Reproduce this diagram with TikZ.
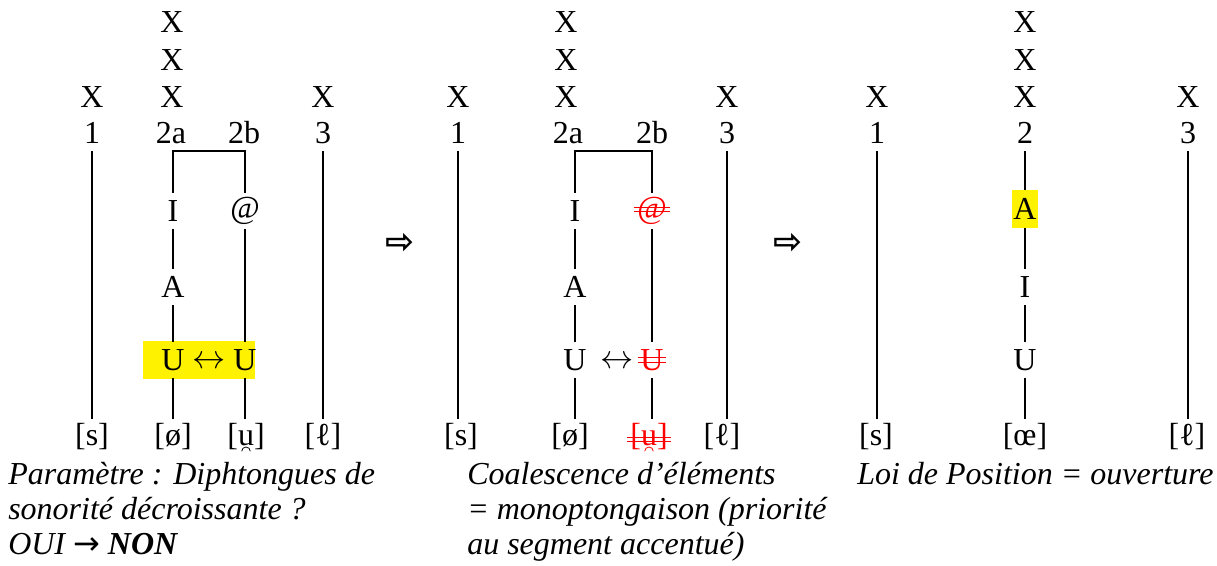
\documentclass[tikz,border=0pt]{standalone}
\usepackage{fontspec}
\setmainfont{Liberation Serif}
\newfontfamily\arrowfont{DejaVu Sans}
\usetikzlibrary{positioning}

\begin{document}
\fontsize{24pt}{26.25pt}\selectfont
\begin{tikzpicture}[x=0.75pt, y=-0.75pt]
        \tikzset{
            seg/.style = {inner sep=0pt, minimum height=27pt},
            gone/.style = {seg, text=red},
            tie/.style = {line width=1.4pt},
            strike/.style = {red, line width=0.7pt, shorten <=-2pt, shorten >=-2pt},
            hilite/.style = {fill=yellow},
            gloss/.style = {inner sep=0pt, anchor=north west, align=left, font=\itshape},
            bigarrow/.style = {seg, font=\arrowfont\bfseries\fontsize{26pt}{26pt}\selectfont}
        }
        \useasboundingbox (0,0) rectangle (1217,566);

        % first panel
        \fill[yellow] (143,341) rectangle (255,379);
        \node (p1x1) [seg] at (92,97) {X};
        \node (p1n1) [seg] at (92,133) {1};
        \node (p1s) [seg] at (92,437) {[s]};
        \node (p1x2a) [seg] at (172,22) {X};
        \node (p1x2b) [seg] at (172,60) {X};
        \node (p1x2c) [seg] at (172,97) {X};
        \node (p1n2a) [seg] at (171,133) {2a};
        \node (p1n2b) [seg] at (244,133) {2b};
        \node (p1i) [seg] at (173,211) {I};
        \node (p1a) [seg] at (173,287) {A};
        \node (p1u) [seg] at (173,360) {U};
        \node (p1o) [seg] at (173,437) {[ø]};
        \node (p1at) [seg] at (245,211) {@};
        \node (p1uu) [seg] at (245,360) {U};
        \node (p1w) [seg] at (246,437) {[u]};
        \node (p1lr) [seg] at (209,362) {$\leftrightarrow$};
        \node (p1x3) [seg] at (323,97) {X};
        \node (p1n3) [seg] at (323,133) {3};
        \node (p1l) [seg] at (323,437) {[ℓ]};

        \draw [tie] (p1n1) -- (p1s);
        \draw [tie] (p1i) -- (p1i.north |- p1n2a.south) -| (p1at);
        \draw [tie] (p1i) -- (p1a);
        \draw [tie] (p1a) -- (p1u);
        \draw [tie] (p1u) -- (p1o);
        \draw [tie] (p1at) -- (p1uu);
        \draw [tie] (p1uu) -- (p1uu.south |- p1w.north);
        \draw [tie] (p1n3) -- (p1l);
        \draw [line width=0.6pt] ([xshift=-3.2pt,yshift=3pt]p1w.south) arc [start angle=180, end angle=0, radius=3.2pt];

        \node (go1) [bigarrow] at (400,243) {⇨};

        % second panel
        \node (p2x1) [seg] at (458,97) {X};
        \node (p2n1) [seg] at (458,133) {1};
        \node (p2s) [seg] at (461,437) {[s]};
        \node (p2x2a) [seg] at (566,22) {X};
        \node (p2x2b) [seg] at (566,60) {X};
        \node (p2x2c) [seg] at (566,97) {X};
        \node (p2n2a) [seg] at (568,133) {2a};
        \node (p2n2b) [seg] at (652,133) {2b};
        \node (p2i) [seg] at (575,211) {I};
        \node (p2a) [seg] at (575,287) {A};
        \node (p2u) [seg] at (575,360) {U};
        \node (p2o) [seg] at (570,437) {[ø]};
        \node (p2at) [gone] at (652,211) {@};
        \node (p2uu) [gone] at (652,360) {U};
        \node (p2w) [gone] at (649,437) {[u]};
        \node (p2lr) [seg] at (617,362) {$\leftrightarrow$};
        \node (p2x3) [seg] at (727,97) {X};
        \node (p2n3) [seg] at (727,133) {3};
        \node (p2l) [seg] at (722,437) {[ℓ]};

        \draw [tie] (p2n1) -- (p2n1.south |- p2s.north);
        \draw [tie] (p2i) -- (p2i.north |- p2n2a.south) -| (p2at);
        \draw [tie] (p2i) -- (p2a);
        \draw [tie] (p2a) -- (p2u);
        \draw [tie] (p2u) -- (p2u.south |- p2o.north);
        \draw [tie] (p2at) -- (p2uu);
        \draw [tie] (p2uu) -- (p2uu.south |- p2w.north);
        \draw [tie] (p2n3) -- (p2n3.south |- p2l.north);
        \draw [red, line width=0.6pt] ([xshift=-3.2pt,yshift=3pt]p2w.south) arc [start angle=180, end angle=0, radius=3.2pt];
        \foreach \n/\d in {p2at/1pt, p2uu/0pt, p2w/-2pt}
            \foreach \s in {-1.6pt,1.6pt}
                \draw [strike] ([yshift=\d+\s]\n.west) -- ([yshift=\d+\s]\n.east);

        \node (go2) [bigarrow] at (788,243) {⇨};

        % third panel
        \node (p3x1) [seg] at (877,97) {X};
        \node (p3n1) [seg] at (877,133) {1};
        \node (p3s) [seg] at (876,437) {[s]};
        \node (p3x2a) [seg] at (1025,22) {X};
        \node (p3x2b) [seg] at (1025,60) {X};
        \node (p3x2c) [seg] at (1025,97) {X};
        \node (p3n2) [seg] at (1025,133) {2};
        \node (p3a) [seg, hilite, minimum width=19pt, minimum height=28pt] at (1025,209) {A};
        \node (p3i) [seg] at (1025,287) {I};
        \node (p3u) [seg] at (1025,360) {U};
        \node (p3oe) [seg] at (1025,437) {[œ]};
        \node (p3x3) [seg] at (1188,97) {X};
        \node (p3n3) [seg] at (1188,133) {3};
        \node (p3l) [seg] at (1187,437) {[ℓ]};

        \draw [tie] (p3n1) -- (p3n1.south |- p3s.north);
        \draw [tie] (p3n2) -- (p3a);
        \draw [tie] (p3a) -- (p3i);
        \draw [tie] (p3i) -- (p3u);
        \draw [tie] (p3u) -- (p3oe);
        \draw [tie] (p3n3) -- (p3n3.south |- p3l.north);

        % captions
        \node (c1) [gloss] at (8,462) {Paramètre : Diphtongues de\\sonorité décroissante ?\\OUI {\arrowfont\upshape →} \textbf{NON}};
        \node (c2) [gloss] at (467,462) {Coalescence d’éléments\\= monoptongaison (priorité\\au segment accentué)};
        \node (c3) [gloss] at (857,462) {Loi de Position = ouverture};
    \end{tikzpicture}
\end{document}
